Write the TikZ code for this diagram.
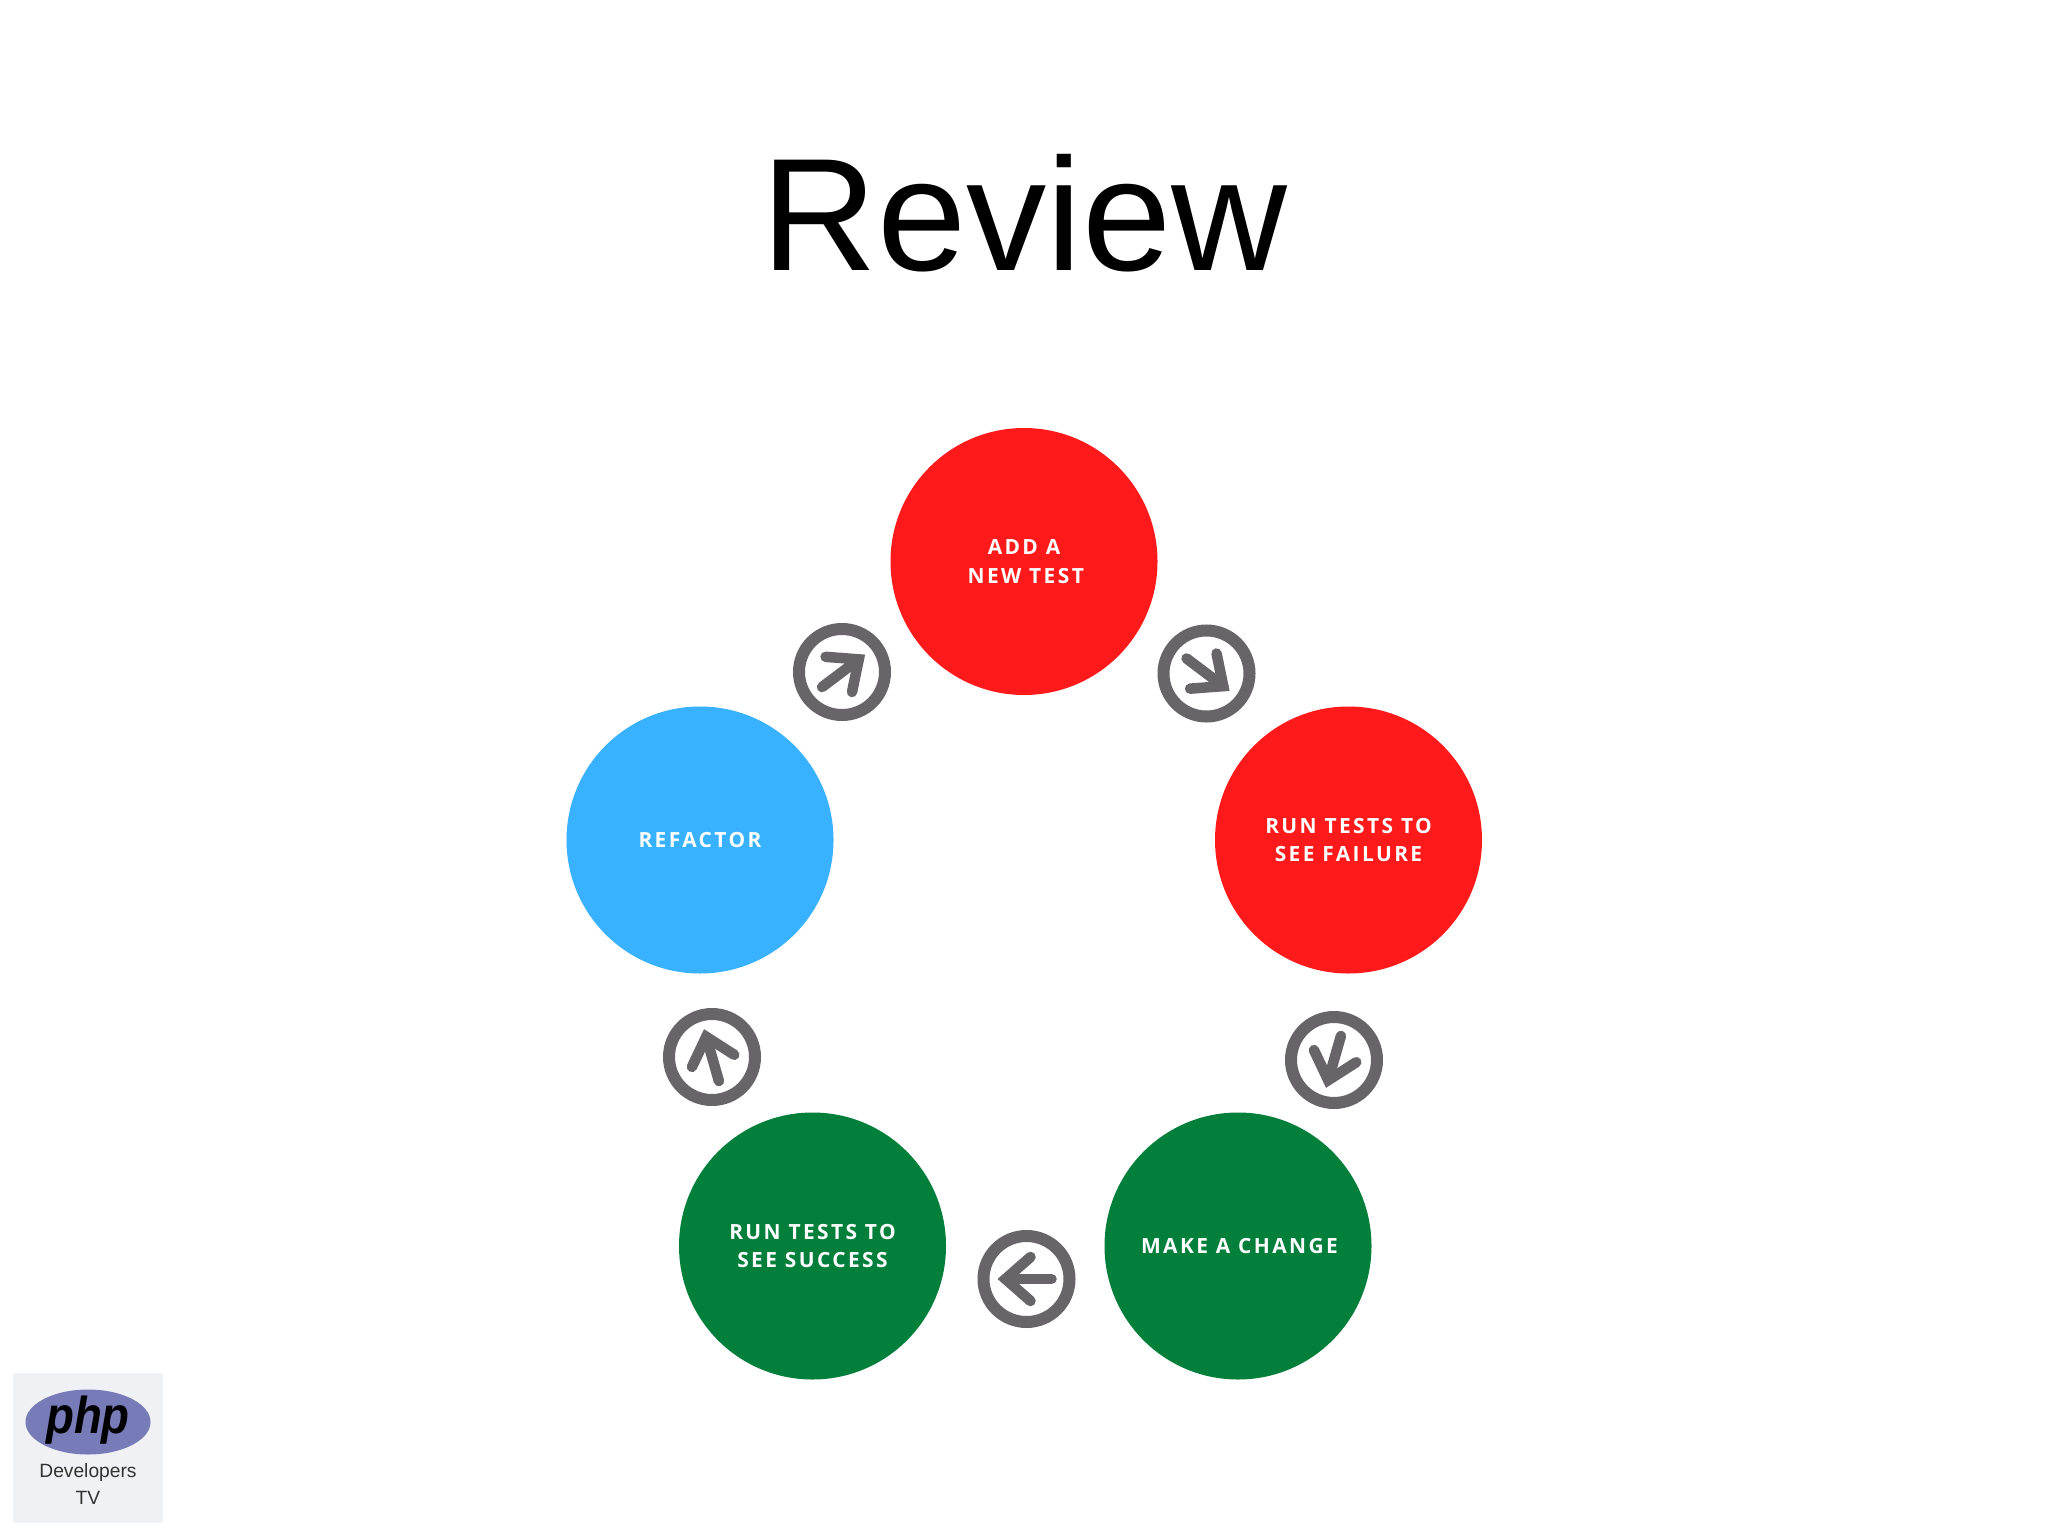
\documentclass[tikz,border=0pt]{standalone}
\usepackage{fontspec}
\usetikzlibrary{shapes.geometric}
\setmainfont{Liberation Sans}
\newfontfamily\lab[LetterSpace=11.5]{Open Sans}
\definecolor{cred}{HTML}{FE1A1A}
\definecolor{cblue}{HTML}{38B1FF}
\definecolor{cgreen}{HTML}{027F3B}
\definecolor{cgray}{HTML}{676567}
\definecolor{cbox}{HTML}{F0F1F4}
\definecolor{cphp}{HTML}{777BB8}
\tikzset{
  stage/.style={circle,minimum size=267bp,inner sep=0pt,text=white,align=center,
    font=\lab\bfseries\fontsize{21}{29}\selectfont},
  ring/.style={circle,draw=cgray,line width=12bp,fill=white,minimum size=86bp,inner sep=0pt},
  arrowstroke/.style={draw=cgray,line width=10.5bp,line cap=round,line join=miter,miter limit=10},
}
\newcommand{\ringarrow}[2]{%
  \begin{scope}[shift={(#1.center)},rotate=#2]
    \draw[arrowstroke] (-25,0) -- (21,0);
    \draw[arrowstroke] (-4,22) -- (21,0) -- (-4,-22);
  \end{scope}}
\begin{document}
\begin{tikzpicture}[x=1bp,y=1bp]
\useasboundingbox (0,0) rectangle (2048,-1536);
\fill[white] (0,0) rectangle (2048,-1536);
\node[font=\fontsize{161}{190}\selectfont,text=black] (title) at (1024.5,-213.5) {Review};
\node[stage,fill=cred] (add) at (1024,-561.5) {ADD A\\[-0.5pt]\,NEW TEST};
\node[stage,fill=cred] (fail) at (1348.5,-840) {RUN TESTS TO\\SEE FAILURE};
\node[stage,fill=cgreen] (change) at (1238,-1246) {\hspace{3bp}MAKE A CHANGE};
\node[stage,fill=cgreen] (success) at (812.5,-1246) {RUN TESTS TO\\SEE SUCCESS};
\node[stage,fill=cblue] (refactor) at (700,-840) {REFACTOR};
\node[ring] (r1) at (1206.5,-673.5) {};
\node[ring] (r2) at (1334,-1060) {};
\node[ring] (r3) at (1026.5,-1279) {};
\node[ring] (r4) at (712,-1057) {};
\node[ring] (r5) at (842,-672) {};
\ringarrow{r1}{-37}
\ringarrow{r2}{254}
\ringarrow{r3}{180}
\ringarrow{r4}{106}
\ringarrow{r5}{37}
\node[fill=cbox,minimum size=150bp,inner sep=0pt] (logo) at (88,-1448) {};
\node[ellipse,fill=cphp,minimum width=125bp,minimum height=65bp,inner sep=0pt] (php) at (88,-1422) {};
\node[font=\bfseries\itshape\fontsize{52}{52}\selectfont,text=black,xscale=0.88] (phptext) at (88,-1420) {php};
\node[font=\fontsize{19.3}{26.5}\selectfont,text=black!80,align=center] (dev) at (88,-1484) {Developers\\TV};
\end{tikzpicture}
\end{document}
